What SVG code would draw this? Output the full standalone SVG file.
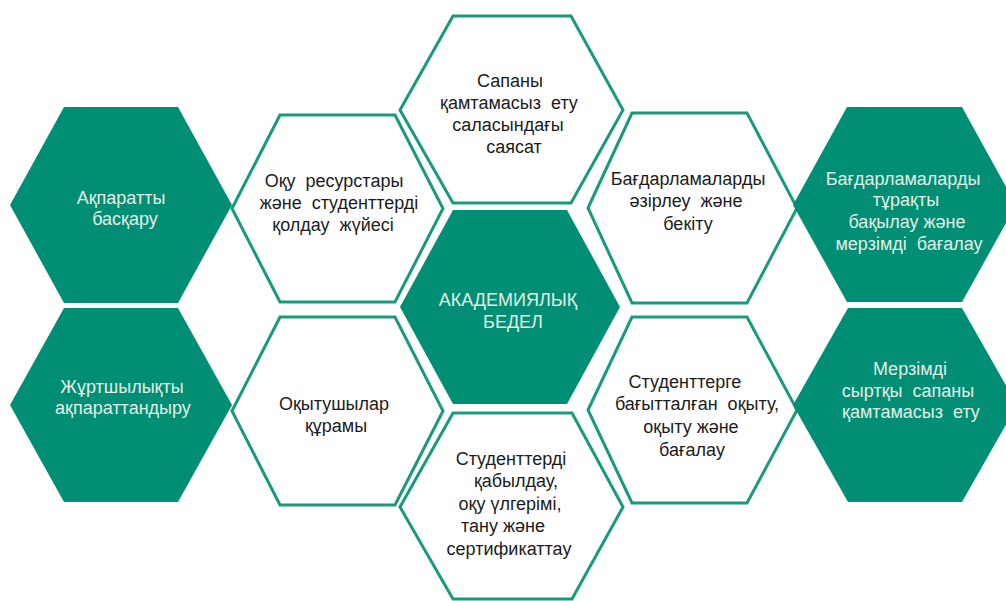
<svg xmlns="http://www.w3.org/2000/svg" width="1006" height="601" viewBox="0 0 1006 601">
<style>
.fill{fill:#008f74;stroke:none}
.out{fill:#ffffff;stroke:#1a9a7c;stroke-width:3;stroke-linejoin:miter}
text{font-family:"Liberation Sans",Arial,sans-serif;font-size:18px;text-anchor:middle;white-space:pre}
.dk{fill:#1c1c1c}
.lt{fill:#e4ede6}
</style>
<rect width="1006" height="601" fill="#ffffff"/>
<g id="connectors"></g>
<g id="n-akparat">
<polygon class="fill" points="10,205 64,107 178,107 232,205 178,303 64,303"/>
<text class="lt" x="121" y="204">Ақпаратты</text>
<text class="lt" x="125" y="225">басқару</text>
</g>
<g id="n-zhurtshylyk">
<polygon class="fill" points="10,405 64,308 178,308 232,405 178,502 64,502"/>
<text class="lt" x="122" y="393">Жұртшылықты</text>
<text class="lt" x="123" y="414">ақпараттандыру</text>
</g>
<g id="n-oku-resurs">
<polygon class="out" points="232,208.5 280,115 395,115 443,208.5 395,302 280,302"/>
<text class="dk" x="334" y="187" xml:space="preserve">Оқу  ресурстары</text>
<text class="dk" x="339" y="209" xml:space="preserve">және  студенттерді</text>
<text class="dk" x="333" y="231" xml:space="preserve">қолдау  жүйесі</text>
</g>
<g id="n-okytushylar">
<polygon class="out" points="232,411 280,317 395,317 443,411 395,505 280,505"/>
<text class="dk" x="334" y="410">Оқытушылар</text>
<text class="dk" x="336" y="432">құрамы</text>
</g>
<g id="n-sapany">
<polygon class="out" points="400,110 453,16 571,16 623,110 571,203 453,203"/>
<text class="dk" x="510" y="87">Сапаны</text>
<text class="dk" x="509" y="109" xml:space="preserve">қамтамасыз  ету</text>
<text class="dk" x="508" y="131">саласындағы</text>
<text class="dk" x="514" y="153">саясат</text>
</g>
<g id="n-akademiyalyk">
<polygon class="fill" points="400,307 453,210 567,210 620,307 567,404 453,404"/>
<text class="lt" x="508" y="306">АКАДЕМИЯЛЫҚ</text>
<text class="lt" x="513" y="328">БЕДЕЛ</text>
</g>
<g id="n-studentterdi">
<polygon class="out" points="400,507 453,413 572,413 623,507 572,599 453,599"/>
<text class="dk" x="511" y="465">Студенттерді</text>
<text class="dk" x="516" y="487">қабылдау,</text>
<text class="dk" x="510" y="510">оқу үлгерімі,</text>
<text class="dk" x="503" y="532">тану және</text>
<text class="dk" x="509" y="555">сертификаттау</text>
</g>
<g id="n-bagdarlama-aziirleu">
<polygon class="out" points="588,208 632,113 747,113 797,208 747,303 632,303"/>
<text class="dk" x="688" y="185">Бағдарламаларды</text>
<text class="dk" x="686" y="207" xml:space="preserve">әзірлеу  және</text>
<text class="dk" x="688" y="230">бекіту</text>
</g>
<g id="n-studentterge">
<polygon class="out" points="588,410 632,317 747,317 797,410 747,503 632,503"/>
<text class="dk" x="685" y="388">Студенттерге</text>
<text class="dk" x="697" y="410" xml:space="preserve">бағытталған  оқыту,</text>
<text class="dk" x="691" y="433">оқыту және</text>
<text class="dk" x="692" y="456">бағалау</text>
</g>
<g id="n-bagdarlama-turakty">
<polygon class="fill" points="793,205 847,107 962,107 1016,205 962,302 847,302"/>
<text class="lt" x="903" y="185">Бағдарламаларды</text>
<text class="lt" x="906" y="206">тұрақты</text>
<text class="lt" x="907" y="228">бақылау және</text>
<text class="lt" x="909" y="250" xml:space="preserve">мерзімді  бағалау</text>
</g>
<g id="n-merzimdi">
<polygon class="fill" points="793,405 848,308 962,308 1017,405 962,502 848,502"/>
<text class="lt" x="910" y="375">Мерзімді</text>
<text class="lt" x="908" y="397" xml:space="preserve">сыртқы  сапаны</text>
<text class="lt" x="911" y="418" xml:space="preserve">қамтамасыз  ету</text>
</g>
</svg>
